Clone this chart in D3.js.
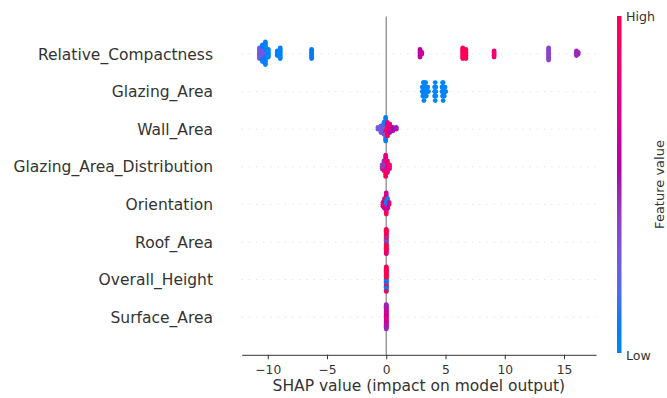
<!DOCTYPE html>
<html>
<head>
<meta charset="utf-8">
<script src="https://cdn.jsdelivr.net/npm/d3@7"></script>
<style>
body { margin: 0; background: #fff; }
svg { display: block; }
text { font-family: "DejaVu Sans", sans-serif; fill: #333333; }
</style>
</head>
<body>
<svg width="667" height="398"></svg>
<script>
// feature names, top row first
var features = ['Relative_Compactness', 'Glazing_Area', 'Wall_Area', 'Glazing_Area_Distribution',
                'Orientation', 'Roof_Area', 'Overall_Height', 'Surface_Area'];
var xTicks = [-10, -5, 0, 5, 10, 15];
var colorbarLabels = ['Low', 'High'];

// each point: [SHAP value, feature value scaled 0 (low) .. 1 (high)]
var relativeCompactness = [
  [-10.7,.28],[-10.7,.28],[-10.7,.3],[-10.7,.28],[-10.7,.26],[-10.7,.28],[-10.7,.28],[-10.7,.28],
  [-10.45,.28],[-10.45,.28],[-10.45,.26],[-10.45,.28],[-10.45,.28],[-10.45,.3],[-10.45,.28],[-10.45,.28],
  [-10.45,.08],[-10.45,.08],[-10.45,.06],[-10.45,.08],
  [-10.2,.28],[-10.2,.26],[-10.2,.28],[-10.2,.28],[-10.2,.05],[-10.2,.05],[-10.2,.04],[-10.2,.05],
  [-10.2,.05],[-10.2,.06],[-10.2,.05],[-10.2,.05],[-10.2,.04],[-10.2,.05],[-10.2,.05],[-10.2,.05],
  [-9.95,.02],[-9.95,.02],[-9.95,.03],[-9.95,.02],[-9.95,.02],[-9.95,.02],
  [-9.2,.05],[-9.2,.05],[-9.2,.05],[-9.2,.05],
  [-8.95,.05],[-8.95,.05],[-8.95,.05],[-8.95,.05],[-8.95,.05],[-8.95,.05],[-8.95,.05],[-8.95,.05],
  [-6.3,.08],[-6.3,.08],[-6.3,.08],[-6.3,.08],[-6.3,.08],[-6.3,.08],[-6.3,.08],
  [2.85,.62],[2.85,.62],[2.85,.64],[2.85,.62],[2.85,.62],[2.85,.6],[3.0,.63],[3.0,.63],
  [6.45,1],[6.45,1],[6.45,.95],[6.45,1],[6.45,1],[6.45,.85],[6.45,1],[6.45,1],
  [6.72,1],[6.72,1],[6.72,1],[6.72,.9],[6.72,1],[6.72,1],[6.72,1],
  [9.1,.86],[9.1,.86],[9.1,.88],[9.1,.86],[9.1,.86],
  [13.7,.38],[13.7,.38],[13.7,.38],[13.7,.37],[13.7,.38],[13.7,.38],[13.7,.39],[13.7,.38],[13.7,.38],
  [16.05,.47],[16.05,.47],[16.05,.47],[16.05,.47],[16.2,.47],[16.2,.47]
];
var glazingArea = [
  [3.04,.02],[3.04,.02],[3.08,.02],[3.08,.02],[3.08,.02],[3.13,.02],[3.13,.02],[3.13,.02],[3.13,.02],
  [3.18,.02],[3.18,.02],[3.18,.02],[3.18,.02],[3.18,.02],[3.23,.02],[3.23,.02],[3.23,.02],[3.23,.02],
  [3.28,.02],[3.28,.02],[3.28,.02],[3.33,.02],[3.33,.02],[3.33,.02],[3.33,.02],[3.38,.02],[3.38,.02],
  [3.38,.02],[3.44,.02],[3.44,.02],[3.5,.02],[3.5,.02],[3.56,.02],
  [4.08,.02],[4.08,.02],[4.08,.02],[4.13,.02],[4.13,.02],[4.13,.02],[4.13,.02],[4.13,.02],
  [4.18,.02],[4.18,.02],[4.18,.02],
  [4.7,.02],[4.7,.02],[4.75,.02],[4.75,.02],[4.75,.02],[4.75,.02],[4.8,.02],[4.8,.02],[4.8,.02],
  [4.8,.02],[4.8,.02],[4.85,.02],[4.85,.02],[4.85,.02],[4.9,.02],[4.9,.02],[4.9,.02],[4.96,.02],
  [4.96,.02],[5.02,.02]
];
var wallArea = [
  [-0.7,.28],[-0.7,.3],
  [-0.45,.28],[-0.45,.26],[-0.45,.28],[-0.45,.3],[-0.45,.28],
  [-0.2,.28],[-0.2,.28],[-0.2,.28],[-0.2,.24],[-0.2,.28],[-0.2,.05],[-0.2,.28],[-0.2,.05],
  [-0.05,.28],[-0.05,.28],[-0.05,1],[-0.05,.28],[-0.05,.9],[-0.05,.28],[-0.05,.28],[-0.05,.05],
  [-0.05,.28],[-0.05,.05],[-0.05,.28],[-0.05,.05],[-0.05,.05],[-0.05,.05],[-0.05,.05],
  [0.1,1],[0.1,1],[0.1,.95],[0.1,1],[0.1,.8],[0.1,1],[0.1,1],[0.1,.85],[0.1,1],
  [0.3,.78],[0.3,.82],[0.3,.72],[0.3,.78],[0.3,.55],[0.3,.78],
  [0.55,.55],[0.55,.55],[0.55,.55],
  [0.85,.5],[0.85,.5]
];
var glazingAreaDistribution = [
  [-0.35,.4],[-0.35,.35],[-0.35,.45],
  [-0.2,.4],[-0.2,.8],[-0.2,.35],[-0.2,.4],[-0.2,.9],[-0.2,.45],
  [-0.05,.4],[-0.05,.35],[-0.05,.45],[-0.05,.4],[-0.05,.78],[-0.05,.82],[-0.05,1],[-0.05,.78],
  [-0.05,1],[-0.05,.72],[-0.05,1],[-0.05,.78],
  [0.1,.78],[0.1,.88],[0.1,.72],[0.1,1],[0.1,.78],[0.1,.82],[0.1,.78],
  [0.28,1],[0.28,.88],[0.28,.82]
];
var orientation = [
  [-0.28,.72],[-0.28,.78],[-0.28,.65],
  [-0.15,.9],[-0.15,.65],[-0.15,1],[-0.15,.6],[-0.15,.72],[-0.15,.78],
  [0,.02],[0,.1],[0,.78],[0,.02],[0,.65],[0,1],[0,.72],[0,.9],[0,.78],[0,.65],[0,1],[0,.72],
  [0.12,.02],[0.12,.02],[0.12,.05],[0.12,.02],[0.12,.65],[0.12,.02],
  [0.24,.72],[0.24,.78]
];
var roofArea = [
  [0,.28],[0,.02],[0,.28],[0,1],[0,.02],[0,.28],[0,1],[0,.02],[0,1],[0,1],[0,1],[0,1],[0,1],[0,.28],
  [0,1],[0,1],[0,1],[0,1],[0,1],[0,1],[0,1],[0,1],[0,1],[0,1],[0,1],[0,1],[0,.8],[0,1]
];
var overallHeight = [
  [0,.02],[0,.02],[0,.02],[0,1],[0,.02],[0,1],[0,.02],[0,1],[0,.02],[0,1],
  [0,1],[0,1],[0,.02],[0,1],[0,.02],[0,1],[0,1],[0,1],[0,1],[0,1],
  [0,.02],[0,1],[0,.02],[0,1],[0,.02],[0,1],[0,.02],[0,1],[0,1],[0,1]
];
var surfaceArea = [
  [0,.72],[0,.68],[0,.78],[0,.65],[0,.72],[0,.68],[0,.82],[0,.65],[0,.72],[0,.55],
  [0,.68],[0,.78],[0,.65],[0,.72],[0,.6],[0,.68],[0,.72],[0,.65],[0,.68],[0,.72],
  [0,.48],[0,.48],[0,.52],[0,.48],[0,.48],[0,.52],[0,.48],[0,.48]
];
var featurePoints = [relativeCompactness, glazingArea, wallArea, glazingAreaDistribution,
                     orientation, roofArea, overallHeight, surfaceArea];

var svg = d3.select('svg');
var nbins = 100;
var rowHeight = 0.4;
var dotR = 2.4;

var x = d3.scaleLinear().domain([-12.2, 17.7]).range([241.7, 596]);
var y = d3.scaleLinear().domain([-1, features.length]).range([354.8, 16.4]);

// shap's red-blue map: lch from blue to red, lightness dips in the middle
function shapColor(t) {
    var l = t < 0.5 ? 54 - 28 * t : 40 + 28 * (t - 0.5);
    var c = 70 + 20 * t;
    var h = (4.6588 + (0.35470565 + 2 * Math.PI - 4.6588) * t) * 180 / Math.PI;
    return d3.hcl(h, c, l).formatHex();
}

// vertical offsets, same binning/layering as shap's beeswarm
function swarm(points) {
    var s = points.map(function(p){ return p[0]; });
    var lo = d3.min(s), hi = d3.max(s);
    var quant = s.map(function(v){ return Math.round(nbins * (v - lo) / (hi - lo + 1e-8)); });
    var order = d3.range(points.length).sort(function(a, b){ return quant[a] - quant[b]; });
    var ys = points.map(function(){ return 0; });
    var layer = 0, last = -1;
    order.forEach(function(i){
        if (quant[i] !== last) layer = 0;
        ys[i] = Math.ceil(layer / 2) * ((layer % 2) * 2 - 1);
        layer += 1;
        last = quant[i];
    });
    var maxY = d3.max(ys, function(v){ return v + 1; });
    return ys.map(function(v){ return v * 0.9 * (rowHeight / maxY); });
}

// dotted row guides
svg.append('g').selectAll('line')
    .data(features)
    .enter().append('line')
    .attr('x1', x.range()[0]).attr('x2', x.range()[1])
    .attr('y1', function(d, i){ return y(features.length - 1 - i); })
    .attr('y2', function(d, i){ return y(features.length - 1 - i); })
    .style('stroke', '#cccccc')
    .style('stroke-width', 0.6)
    .style('stroke-dasharray', '1.2,6');

// zero line
svg.append('line')
    .attr('x1', x(0)).attr('x2', x(0))
    .attr('y1', y.range()[1]).attr('y2', y.range()[0])
    .style('stroke', '#999999')
    .style('stroke-width', 1.5);

// dots, bottom row first
for (var i = features.length - 1; i >= 0; i--) {
    var pts = featurePoints[i];
    var pos = features.length - 1 - i;
    var ys = swarm(pts);
    svg.append('g').selectAll('circle')
        .data(pts)
        .enter().append('circle')
        .attr('cx', function(d){ return x(d[0]); })
        .attr('cy', function(d, j){ return y(pos + ys[j]); })
        .attr('r', dotR)
        .style('fill', function(d){ return shapColor(d[1]); });
}

// feature labels
svg.append('g').selectAll('text')
    .data(features)
    .enter().append('text')
    .attr('x', 213)
    .attr('y', function(d, i){ return y(features.length - 1 - i); })
    .attr('dy', '0.36em')
    .attr('text-anchor', 'end')
    .style('font-size', '15.5px')
    .text(function(d){ return d; });

// x axis
var xAxis = svg.append('g')
    .attr('transform', 'translate(0,' + y.range()[0] + ')')
    .call(d3.axisBottom(x).tickValues(xTicks).tickSize(4.5).tickPadding(5.5).tickSizeOuter(0));
xAxis.select('.domain').style('stroke', '#333333').style('stroke-width', 1);
xAxis.selectAll('.tick line').style('stroke', '#333333').style('stroke-width', 1);
xAxis.selectAll('.tick text')
    .style('font-family', '"DejaVu Sans", sans-serif')
    .style('font-size', '12.3px')
    .style('fill', '#333333');

svg.append('text')
    .attr('x', (x.range()[0] + x.range()[1]) / 2)
    .attr('y', 391)
    .attr('text-anchor', 'middle')
    .style('font-size', '15.5px')
    .text('SHAP value (impact on model output)');

// colour bar
var grad = svg.append('defs').append('linearGradient')
    .attr('id', 'cbar')
    .attr('x1', 0).attr('y1', 1).attr('x2', 0).attr('y2', 0);
grad.selectAll('stop')
    .data(d3.range(0, 1.0001, 0.05))
    .enter().append('stop')
    .attr('offset', function(d){ return d; })
    .attr('stop-color', function(d){ return shapColor(d); });

var cbar = d3.scaleLinear().domain([0, 1]).range([353, 16]);
svg.append('rect')
    .attr('x', 617).attr('y', cbar(1))
    .attr('width', 4.5).attr('height', cbar(0) - cbar(1))
    .style('fill', 'url(#cbar)');

svg.append('g').selectAll('text')
    .data(colorbarLabels)
    .enter().append('text')
    .attr('x', 626)
    .attr('y', function(d, i){ return cbar(i) + (i ? 0.5 : 2); })
    .attr('dy', '0.36em')
    .style('font-size', '12.6px')
    .text(function(d){ return d; });

svg.append('text')
    .attr('transform', 'translate(659,' + ((cbar(0) + cbar(1)) / 2) + ') rotate(-90)')
    .attr('dy', '0.36em')
    .attr('text-anchor', 'middle')
    .style('font-size', '13px')
    .text('Feature value');
</script>
</body>
</html>
